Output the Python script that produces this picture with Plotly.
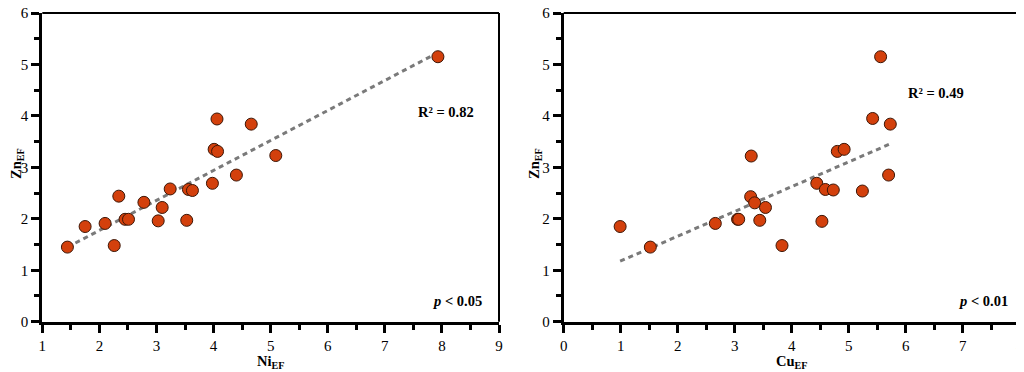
import numpy as np
import plotly.graph_objects as go

# ---- data ----
ni_ef = [1.44, 1.75, 2.10, 2.26, 2.34, 2.45, 2.51, 2.78, 3.03, 3.10, 3.24,
         3.53, 3.56, 3.63, 3.98, 4.01, 4.06, 4.07, 4.40, 4.66, 5.09, 7.93]
zn_ni = [1.45, 1.85, 1.91, 1.48, 2.44, 1.99, 1.99, 2.32, 1.96, 2.22, 2.58,
         1.97, 2.57, 2.55, 2.69, 3.35, 3.94, 3.31, 2.85, 3.84, 3.23, 5.15]

cu_ef = [0.99, 1.52, 2.66, 3.05, 3.07, 3.29, 3.28, 3.35, 3.44, 3.54, 3.83,
         4.44, 4.53, 4.59, 4.73, 4.80, 4.92, 5.24, 5.42, 5.56, 5.70, 5.73]
zn_cu = [1.85, 1.45, 1.91, 1.99, 1.99, 3.22, 2.43, 2.31, 1.97, 2.22, 1.48,
         2.69, 1.95, 2.57, 2.56, 3.31, 3.35, 2.54, 3.95, 5.15, 2.85, 3.84]

r2_labels = ["R² = 0.82", "R² = 0.49"]
p_labels = ["<i>p</i> < 0.05", "<i>p</i> < 0.01"]
x_titles = ["Ni<sub>EF</sub>", "Cu<sub>EF</sub>"]
y_title = "Zn<sub>EF</sub>"
x_ranges = [[1, 9], [0, 8]]
y_range = [0, 6]

FONT = "Times New Roman, Liberation Serif, DejaVu Serif, serif"
MARKER = "#D3400C"
EDGE = "#3d1606"
TREND = "#7a7a7a"
TXT = 14.5

# the page body has an 8px margin, so the figure is drawn 8px in from the window edge
OFF = 8
W, H = 1024 - OFF, 372 - OFF


def fx(px):
    return (px - OFF) / W


def fy(py):
    return min(1.0, max(0.0, (H - (py - OFF)) / H))


fig = go.Figure()
domains = [[fx(42.3), fx(499)], [fx(563.7), fx(1019.7)]]
ydom = [fy(321.7), fy(13)]
datasets = [(ni_ef, zn_ni), (cu_ef, zn_cu)]

for i, (xs, ys) in enumerate(datasets):
    xa = "x" if i == 0 else "x2"
    ya = "y" if i == 0 else "y2"
    xarr = np.array(xs)
    yarr = np.array(ys)
    m, b = np.polyfit(xarr, yarr, 1)
    xl = np.array([xarr.min(), xarr.max()])
    fig.add_trace(go.Scatter(x=xl, y=m * xl + b, mode="lines", xaxis=xa, yaxis=ya,
                             line=dict(color=TREND, width=3, dash="5px,4px"),
                             showlegend=False, hoverinfo="skip"))
    fig.add_trace(go.Scatter(x=xs, y=ys, mode="markers", xaxis=xa, yaxis=ya,
                             marker=dict(size=12, color=MARKER,
                                         line=dict(color=EDGE, width=1)),
                             showlegend=False))

axis_common = dict(
    showgrid=False, zeroline=False, showline=True, linecolor="black", linewidth=3,
    ticks="outside", ticklen=8, tickwidth=2.5, tickcolor="black",
    tickfont=dict(family=FONT, size=15, color="black"), dtick=1,
    ticklabeloverflow="allow", automargin=False,
    minor=dict(ticks="outside", ticklen=5, tickwidth=2.5, tickcolor="black", dtick=0.5),
)

layout = dict(
    width=W, height=H, margin=dict(l=0, r=0, t=0, b=0, pad=0),
    paper_bgcolor="white", plot_bgcolor="white",
    font=dict(family=FONT, color="black"),
)
for i in range(2):
    sx = "" if i == 0 else "2"
    layout["xaxis" + sx] = dict(axis_common, domain=domains[i], range=x_ranges[i],
                                 anchor="y" + sx, tick0=x_ranges[i][0])
    layout["yaxis" + sx] = dict(axis_common, domain=ydom, range=y_range,
                                 anchor="x" + sx, tick0=0)
fig.update_layout(**layout)

annotations = []
shapes = []
r2_left = [416, 906]
r2_y = [112, 93]
p_right = [484, 1010]
ytitle_x = [17, 535]
for i in range(2):
    d0, d1 = domains[i]
    shapes.append(dict(type="line", xref="paper", yref="paper", x0=d0, x1=d1,
                       y0=ydom[1], y1=ydom[1], line=dict(color="black", width=2)))
    shapes.append(dict(type="line", xref="paper", yref="paper", x0=d1, x1=d1,
                       y0=ydom[0], y1=ydom[1], line=dict(color="black", width=2)))
    annotations.append(dict(text="<b>" + x_titles[i] + "</b>", xref="paper", yref="paper",
                            x=(d0 + d1) / 2, y=fy(362), showarrow=False,
                            font=dict(family=FONT, size=TXT), xanchor="center", yanchor="middle"))
    annotations.append(dict(text="<b>" + y_title + "</b>", xref="paper", yref="paper",
                            x=fx(ytitle_x[i]), y=fy(164), showarrow=False,
                            textangle=-90, font=dict(family=FONT, size=TXT),
                            xanchor="center", yanchor="middle"))
    annotations.append(dict(text="<b>" + r2_labels[i] + "</b>", xref="paper", yref="paper",
                            x=fx(r2_left[i]), y=fy(r2_y[i]),
                            showarrow=False, font=dict(family=FONT, size=TXT),
                            xanchor="left", yanchor="middle"))
    annotations.append(dict(text="<b>" + p_labels[i] + "</b>", xref="paper", yref="paper",
                            x=fx(p_right[i]), y=fy(301),
                            showarrow=False, font=dict(family=FONT, size=TXT),
                            xanchor="right", yanchor="middle"))
fig.update_layout(annotations=annotations, shapes=shapes)

fig.write_html("out.html")
